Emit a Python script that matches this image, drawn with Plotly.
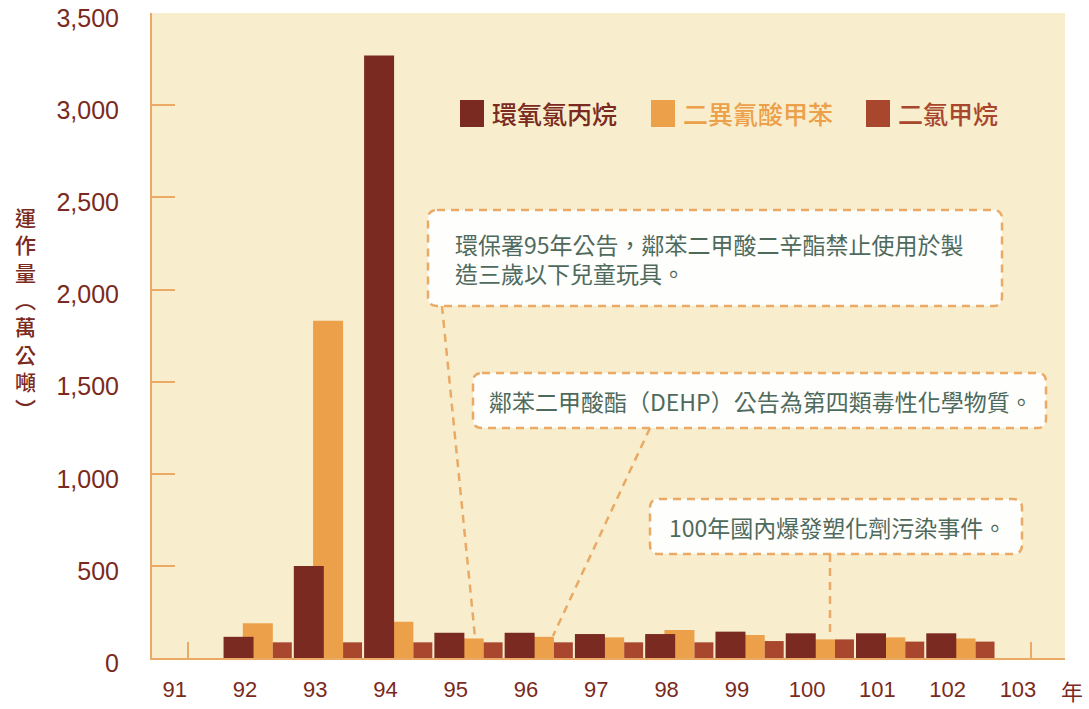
import plotly.graph_objects as go

# ---- data -------------------------------------------------------------
years = [92, 93, 94, 95, 96, 97, 98, 99, 100, 101, 102]
tick_years = [91, 92, 93, 94, 95, 96, 97, 98, 99, 100, 101, 102, 103]
epichlorohydrin = [115, 500, 3270, 137, 137, 130, 130, 143, 134, 134, 134]   # 環氧氯丙烷
tdi = [188, 1830, 197, 106, 115, 112, 152, 125, 101, 112, 106]               # 二異氰酸甲苯
dichloromethane = [85, 85, 85, 85, 85, 85, 85, 92, 101, 89, 89]              # 二氯甲烷
series_names = ["環氧氯丙烷", "二異氰酸甲苯", "二氯甲烷"]
y_ticks = [0, 500, 1000, 1500, 2000, 2500, 3000, 3500]
notes = [
    ["環保署95年公告，鄰苯二甲酸二辛酯禁止使用於製", "造三歲以下兒童玩具。"],
    ["鄰苯二甲酸酯（DEHP）公告為第四類毒性化學物質。"],
    ["100年國內爆發塑化劑污染事件。"],
]
y_title = "運作量︵萬公噸︶"

# ---- styling ----------------------------------------------------------
W, H = 1089, 709
L, R, T, B = 152, 24, 13, 51
PW, PH = W - L - R, H - T - B
C_DARK = "#7a2a20"
C_ORANGE = "#eda04a"
C_RUST = "#a8472e"
C_LINE = "#eaa964"
C_NOTE = "#4e6a5c"
BG = "#f8eecd"
CJK = "Noto Sans CJK TC"
LAT = "Liberation Sans"


def px(x):
    return (x - L) / PW


def py(y):
    return (H - B - y) / PH


fig = go.Figure()

# orange drawn first so the dark bar overlaps it
fig.add_trace(go.Bar(x=years, y=tdi, name=series_names[1], marker_color=C_ORANGE,
                     offset=-0.216, width=0.427, marker_line_width=0))
fig.add_trace(go.Bar(x=years, y=epichlorohydrin, name=series_names[0], marker_color=C_DARK,
                     offset=-0.49, width=0.427, marker_line_width=0))
fig.add_trace(go.Bar(x=years, y=dichloromethane, name=series_names[2], marker_color=C_RUST,
                     offset=0.211, width=0.27, marker_line_width=0))

shapes = []
annotations = []

# legend built from the series names
legend_items = [(series_names[0], C_DARK, 460), (series_names[1], C_ORANGE, 651),
                (series_names[2], C_RUST, 866)]
for name, col, x0 in legend_items:
    shapes.append(dict(type="rect", xref="paper", yref="paper",
                       x0=px(x0), x1=px(x0 + 24), y0=py(127), y1=py(100),
                       fillcolor=col, line_width=0))
    annotations.append(dict(xref="paper", yref="paper", x=px(x0 + 30), y=py(113),
                            xanchor="left", yanchor="middle", showarrow=False,
                            text=name,
                            font=dict(family=CJK, size=25, color=col, weight=500)))


def rounded_box(x0, y0, x1, y1, r=9):
    rx, ry = r / PW, r / PH
    a, b, c, d = px(x0), px(x1), py(y1), py(y0)  # left, right, bottom, top
    return (f"M{a + rx},{d} L{b - rx},{d} Q{b},{d} {b},{d - ry} "
            f"L{b},{c + ry} Q{b},{c} {b - rx},{c} L{a + rx},{c} "
            f"Q{a},{c} {a},{c + ry} L{a},{d - ry} Q{a},{d} {a + rx},{d} Z")


dash = "8px,6px"
# connector lines from the note boxes down to the bars
for (xa, ya, xb, yb) in [(442, 306, 475, 637), (650, 428, 553, 636), (830, 554, 830, 636)]:
    shapes.append(dict(type="line", xref="paper", yref="paper",
                       x0=px(xa), y0=py(ya), x1=px(xb), y1=py(yb),
                       line=dict(color=C_LINE, width=2.5, dash=dash)))

boxes = [(428, 210, 1002, 306), (473, 373, 1046, 428), (650, 499, 1022, 554)]
text_pos = [(453, 244), (487, 401), (667, 527)]
LINE_STEP = 29
for (x0, y0, x1, y1), (tx, ty), lines in zip(boxes, text_pos, notes):
    shapes.append(dict(type="path", xref="paper", yref="paper",
                       path=rounded_box(x0, y0, x1, y1),
                       fillcolor="#fefefc", line=dict(color=C_LINE, width=2.5, dash=dash)))
    for i, line in enumerate(lines):
        annotations.append(dict(xref="paper", yref="paper", x=px(tx), y=py(ty + i * LINE_STEP),
                                xanchor="left", yanchor="middle", align="left",
                                showarrow=False, text=line,
                                font=dict(family=CJK, size=23, color=C_NOTE)))

# vertical axis title, one character per line
annotations.append(dict(xref="paper", yref="paper", x=px(26), y=py(312),
                        xanchor="center", yanchor="middle", showarrow=False,
                        text="<br>".join(y_title),
                        font=dict(family=CJK, size=21, color=C_DARK, weight=500)))

# unit after the year axis
annotations.append(dict(xref="paper", yref="paper", x=px(1072), y=py(690),
                        xanchor="center", yanchor="middle", showarrow=False,
                        text="年", font=dict(family=CJK, size=22, color=C_DARK)))

fig.update_layout(
    width=W, height=H,
    margin=dict(l=L, r=R, t=T, b=B, pad=0),
    paper_bgcolor="white", plot_bgcolor=BG,
    barmode="overlay", showlegend=False,
    shapes=shapes, annotations=annotations,
    xaxis=dict(range=[90.492, 103.484], tickvals=tick_years,
               ticktext=[str(t) for t in tick_years],
               ticks="inside", ticklen=16, tickwidth=1.5, tickcolor=C_LINE,
               showline=True, linecolor=C_LINE, linewidth=2,
               showgrid=False, zeroline=False, layer="below traces",
               automargin=False,
               ticklabelshift=-13, ticklabelstandoff=11,
               tickfont=dict(family=LAT, size=22, color=C_DARK)),
    yaxis=dict(range=[0, 3501], tickvals=y_ticks, tickformat=",",
               ticks="inside", ticklen=23, tickwidth=1.5, tickcolor=C_LINE,
               showline=True, linecolor=C_LINE, linewidth=2,
               showgrid=False, zeroline=False, layer="below traces",
               automargin=False, ticklabeloverflow="allow",
               ticklabelstandoff=26, ticklabelshift=5,
               tickfont=dict(family=LAT, size=25, color=C_DARK)),
)

fig.write_html("out.html")
